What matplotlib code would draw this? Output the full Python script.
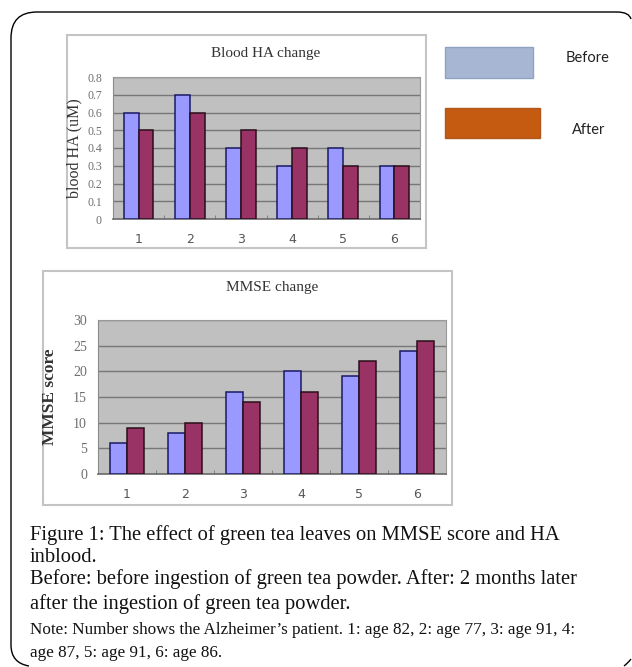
import matplotlib
matplotlib.use("Agg")
import matplotlib.pyplot as plt
import matplotlib.patches as mpatches
from matplotlib.path import Path
import numpy as np

plt.rcParams["savefig.bbox"] = "standard"

# ---------------- data ----------------
patients = ["1", "2", "3", "4", "5", "6"]
ha_before = [0.6, 0.7, 0.4, 0.3, 0.4, 0.3]
ha_after = [0.5, 0.6, 0.5, 0.4, 0.3, 0.3]
mmse_before = [6, 8, 16, 20, 19, 24]
mmse_after = [9, 10, 14, 16, 22, 26]
ha_ticks = [0, 0.1, 0.2, 0.3, 0.4, 0.5, 0.6, 0.7, 0.8]
ha_ticklabels = ["0", "0.1", "0.2", "0.3", "0.4", "0.5", "0.6", "0.7", "0.8"]
mmse_ticks = [0, 5, 10, 15, 20, 25, 30]
legend_labels = ["Before", "After"]
caption_lines = [
    "Figure 1: The effect of green tea leaves on MMSE score and HA",
    "inblood.",
    "Before: before ingestion of green tea powder. After: 2 months later",
    "after the ingestion of green tea powder.",
]
note_lines = [
    "Note: Number shows the Alzheimer\u2019s patient. 1: age 82, 2: age 77, 3: age 91, 4:",
    "age 87, 5: age 91, 6: age 86.",
]

W, H = 632, 667
fig = plt.figure(figsize=(W / 100, H / 100), dpi=100)
fig.patch.set_facecolor("white")


def rect(l, t, r, b):
    return [l / W, 1 - b / H, (r - l) / W, (b - t) / H]


def fx(x):
    return x / W


def fy(y):
    return 1 - y / H


# outer rounded frame: only the parts that fall inside the canvas
L, T, r = 11, 12, 26
XR = 617          # where the top-right corner starts to bend
YB = 667          # bottom edge of the frame
top_path = Path([(fx(L + r), fy(T)), (fx(XR), fy(T)),
                 (fx(XR + 12), fy(T)), (fx(W - 1), fy(T + 7))],
                [Path.MOVETO, Path.LINETO, Path.CURVE3, Path.CURVE3])
left_path = Path([(fx(L + r), fy(T)), (fx(L), fy(T)), (fx(L), fy(T + r)),
                  (fx(L), fy(YB - 22)), (fx(L), fy(YB - 4)),
                  (fx(L + 18), fy(YB - 1))],
                 [Path.MOVETO, Path.CURVE3, Path.CURVE3, Path.LINETO,
                  Path.CURVE3, Path.CURVE3])
br_path = Path([(fx(624), fy(666)), (fx(628), fy(663)), (fx(631), fy(659))],
               [Path.MOVETO, Path.CURVE3, Path.CURVE3])
for pth in (top_path, left_path, br_path):
    pp = mpatches.PathPatch(pth, transform=fig.transFigure, fill=False,
                            edgecolor="black", linewidth=1.0, zorder=-2)
    fig.patches.append(pp)

# chart boxes
for (l, t, rr, b) in [(67, 35, 426, 248), (43, 271, 452, 505)]:
    p = mpatches.Rectangle((fx(l), fy(b)), fx(rr - l), (b - t) / H,
                           transform=fig.transFigure, facecolor="white",
                           edgecolor="#c4c4c4", linewidth=1.5, zorder=-1)
    fig.patches.append(p)

BLUE = "#9999ff"
RED = "#993366"
serif = "Liberation Serif"


def draw_chart(ax, before, after, yticks, ylim, ylabels, ylabel,
               ylab_weight, ytick_size, ylab_size):
    x = np.arange(1, len(patients) + 1)
    w = 0.29
    ax.bar(x - w / 2, before, width=w, color=BLUE, edgecolor="#1a1a66",
           linewidth=1.1, zorder=3)
    ax.bar(x + w / 2, after, width=w, color=RED, edgecolor="#2a0f1a",
           linewidth=1.1, zorder=3)
    ax.set_facecolor("#c0c0c0")
    ax.set_xlim(0.5, len(patients) + 0.5)
    ax.set_ylim(*ylim)
    ax.set_yticks(yticks)
    ax.set_yticklabels(ylabels, fontfamily=serif, fontsize=ytick_size,
                       color="#6f6f6f")
    ax.set_xticks(x)
    ax.set_xticklabels(patients, fontfamily="DejaVu Sans", fontsize=9,
                       color="#555555")
    ax.set_xticks(np.arange(1.5, len(patients), 1.0), minor=True)
    ax.tick_params(axis="y", length=0, pad=8)
    ax.tick_params(axis="x", which="major", length=0, pad=10)
    ax.tick_params(axis="x", which="minor", length=3, direction="in",
                   color="#777777")
    ax.yaxis.grid(True, color="#777777", linewidth=1.0, zorder=1)
    ax.set_axisbelow(True)
    for s in ["top", "right"]:
        ax.spines[s].set_color("#9a9a9a")
        ax.spines[s].set_linewidth(0.8)
    ax.spines["left"].set_color("#8a8a8a")
    ax.spines["bottom"].set_color("#6a6a6a")
    ax.spines["bottom"].set_linewidth(1.2)
    ax.set_ylabel(ylabel, fontfamily=serif, fontsize=ylab_size,
                  fontweight=ylab_weight, color="#333333")
    return ax


ax1 = fig.add_axes(rect(113, 77, 420, 219))
draw_chart(ax1, ha_before, ha_after, ha_ticks, (0, 0.8), ha_ticklabels,
           "blood HA (uM)", "normal", 8.5, 11.5)
ax1.yaxis.set_label_coords((82 - 113) / (420 - 113), 0.5)
fig.text(fx(266), fy(53), "Blood HA change", fontfamily=serif, fontsize=11,
         color="#333333", ha="center", va="center")

ax2 = fig.add_axes(rect(98, 320, 446, 474))
draw_chart(ax2, mmse_before, mmse_after, mmse_ticks, (0, 30),
           [str(t) for t in mmse_ticks], "MMSE score", "bold", 10, 12.5)
ax2.yaxis.set_label_coords((58 - 98) / (446 - 98), 0.5)
fig.text(fx(272), fy(288), "MMSE change", fontfamily=serif, fontsize=11,
         color="#333333", ha="center", va="center")

# legend boxes
for (l, t, rr, b), fc, ec, lab, tx, ty in [
        ((445, 47, 533, 78), "#a7b6d2", "#8ea2c4", legend_labels[0], 566, 58),
        ((445, 108, 540, 138), "#c55a11", "#b0581c", legend_labels[1], 572, 130)]:
    p = mpatches.Rectangle((fx(l), fy(b)), fx(rr - l), (b - t) / H,
                           transform=fig.transFigure, facecolor=fc,
                           edgecolor=ec, linewidth=1.0)
    fig.patches.append(p)
    fig.text(fx(tx), fy(ty), lab, fontfamily="Lato", fontsize=10.5,
             color="#222222", ha="left", va="center")

# caption
cap_y = [535, 557, 579, 604]
for line, y in zip(caption_lines, cap_y):
    fig.text(fx(30), fy(y), line, fontfamily=serif, fontsize=14.8,
             color="#111111", ha="left", va="center")
note_y = [630, 653]
for line, y in zip(note_lines, note_y):
    fig.text(fx(30), fy(y), line, fontfamily=serif, fontsize=12.3,
             color="#111111", ha="left", va="center")

fig.savefig("out.png", dpi=100, facecolor="white", bbox_inches=None)
